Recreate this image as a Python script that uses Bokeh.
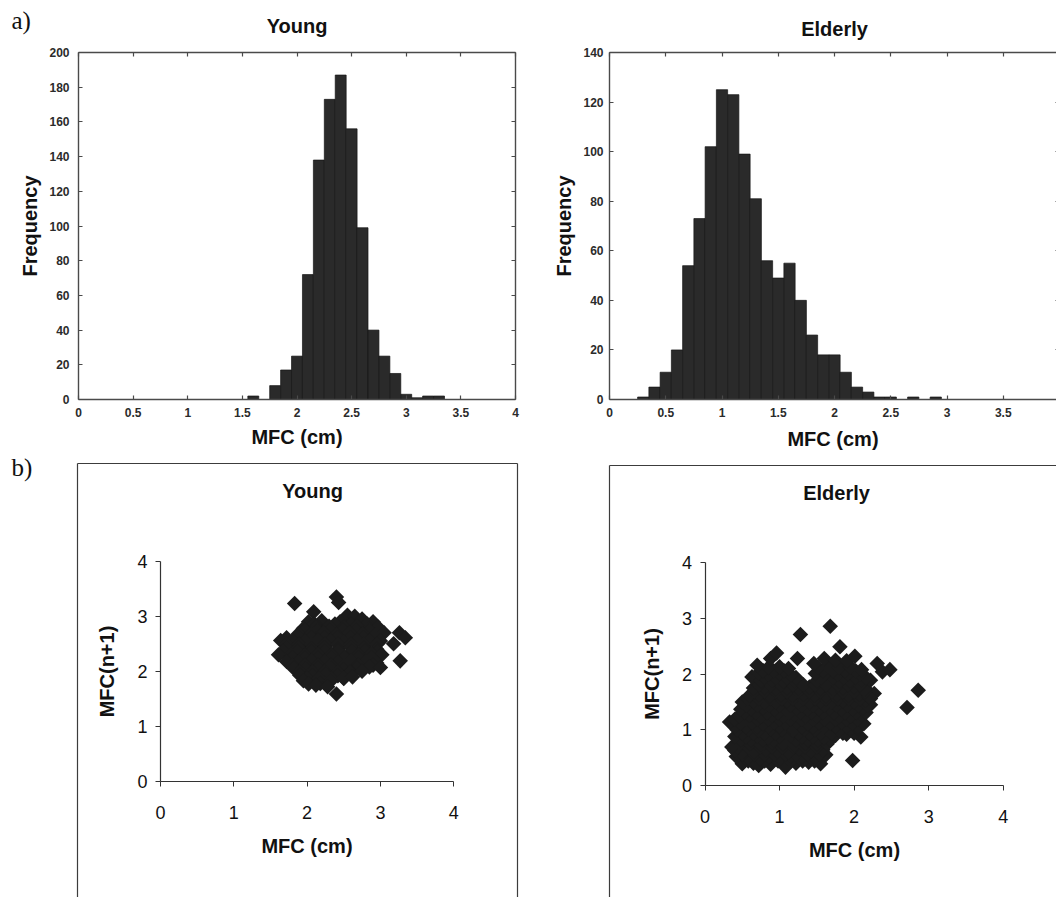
import math
from bokeh.plotting import figure
from bokeh.layouts import column, row
from bokeh.models import LinearAxis, FixedTicker, NumeralTickFormatter, Label
from bokeh.embed import file_html
from bokeh.resources import INLINE

# ---- histogram data: bin centres (cm) and counts ----
young_bin = [1.6, 1.7, 1.8, 1.9, 2.0, 2.1, 2.2, 2.3, 2.4, 2.5, 2.6, 2.7, 2.8, 2.9, 3.0, 3.1, 3.2, 3.3]
young_freq = [2, 0, 8, 17, 25, 72, 138, 173, 187, 156, 99, 40, 25, 15, 3, 1, 2, 2]

elderly_bin = [0.3, 0.4, 0.5, 0.6, 0.7, 0.8, 0.9, 1.0, 1.1, 1.2, 1.3, 1.4, 1.5, 1.6, 1.7,
               1.8, 1.9, 2.0, 2.1, 2.2, 2.3, 2.4, 2.5, 2.6, 2.7, 2.8, 2.9]
elderly_freq = [1, 5, 11, 20, 54, 73, 102, 125, 123, 99, 81, 56, 49, 55, 40,
                26, 18, 18, 11, 5, 3, 1, 1, 0, 1, 0, 1]

mfc_ticks = [0, 0.5, 1, 1.5, 2, 2.5, 3, 3.5, 4]
young_freq_ticks = [0, 20, 40, 60, 80, 100, 120, 140, 160, 180, 200]
elderly_freq_ticks = [0, 20, 40, 60, 80, 100, 120, 140]
return_map_ticks = [0, 1, 2, 3, 4]

# ---- successive-stride return maps: (MFC(n), MFC(n+1)) pairs in cm ----
young_pairs = [
    (1.83, 3.23), (2.40, 3.35), (2.43, 3.25),
    (2.09, 3.08), (2.55, 3.02), (2.65, 3.00),
    (2.02, 2.90), (2.20, 2.92), (2.45, 2.90), (2.75, 2.95), (2.90, 2.90),
    (2.10, 2.86), (2.38, 2.86), (2.60, 2.86), (2.82, 2.86),
    (1.95, 2.78), (2.12, 2.80), (2.30, 2.82), (2.50, 2.80), (2.68, 2.82), (2.85, 2.78), (2.97, 2.80),
    (1.97, 2.74), (2.14, 2.74), (2.31, 2.74), (2.49, 2.74), (2.67, 2.74), (2.85, 2.74),
    (1.88, 2.68), (2.05, 2.67), (2.22, 2.70), (2.40, 2.66), (2.58, 2.70), (2.76, 2.68), (2.93, 2.66), (3.05, 2.70),
    (1.72, 2.61), (1.89, 2.61), (2.06, 2.61), (2.24, 2.61), (2.41, 2.61), (2.59, 2.61), (2.77, 2.61), (2.94, 2.61),
    (1.64, 2.56), (1.80, 2.55), (1.97, 2.54), (2.15, 2.56), (2.32, 2.55), (2.50, 2.53), (2.68, 2.56),
    (2.85, 2.55), (3.00, 2.55), (3.26, 2.70), (3.34, 2.61), (3.18, 2.50),
    (1.72, 2.49), (1.89, 2.49), (2.06, 2.49), (2.24, 2.49), (2.42, 2.49), (2.60, 2.49), (2.77, 2.49), (2.95, 2.49),
    (1.72, 2.42), (1.88, 2.43), (2.06, 2.41), (2.24, 2.43), (2.42, 2.40), (2.60, 2.43), (2.78, 2.42), (2.95, 2.40),
    (1.67, 2.36), (1.87, 2.36), (2.06, 2.36), (2.24, 2.36), (2.42, 2.36), (2.61, 2.36), (2.79, 2.36), (2.96, 2.36),
    (1.61, 2.30), (1.78, 2.30), (1.97, 2.29), (2.15, 2.31), (2.33, 2.30), (2.50, 2.28), (2.70, 2.30), (2.88, 2.32), (3.02, 2.30),
    (1.80, 2.24), (1.97, 2.24), (2.15, 2.24), (2.33, 2.24), (2.51, 2.24), (2.70, 2.24), (2.88, 2.24),
    (1.72, 2.18), (1.88, 2.17), (2.06, 2.19), (2.24, 2.18), (2.42, 2.17), (2.60, 2.19), (2.80, 2.18), (2.95, 2.15), (3.27, 2.19),
    (1.80, 2.11), (1.97, 2.11), (2.15, 2.11), (2.33, 2.11), (2.51, 2.11), (2.70, 2.11), (2.90, 2.11),
    (1.82, 2.05), (1.98, 2.04), (2.15, 2.06), (2.33, 2.05), (2.50, 2.03), (2.68, 2.06), (2.85, 2.08), (3.00, 2.07),
    (1.90, 1.99), (2.07, 1.99), (2.24, 1.99), (2.42, 1.99), (2.59, 1.99),
    (1.90, 1.93), (2.07, 1.92), (2.25, 1.94), (2.42, 1.92), (2.59, 1.98), (2.75, 2.00),
    (2.00, 1.87), (2.16, 1.87), (2.33, 1.87), (2.50, 1.87),
    (1.95, 1.83), (2.02, 1.77), (2.18, 1.78), (2.32, 1.82), (2.50, 1.88), (2.62, 1.90),
    (2.40, 1.59), (2.12, 1.75), (2.28, 1.72),
]

elderly_pairs = [
    (0.50, 0.39), (0.65, 0.40), (0.72, 0.36), (0.88, 0.38), (1.08, 0.33), (1.22, 0.40), (1.39, 0.42), (1.55, 0.39),
    (0.58, 0.44), (0.80, 0.44), (0.98, 0.44), (1.15, 0.44), (1.31, 0.44), (1.47, 0.44),
    (0.42, 0.52), (0.58, 0.50), (0.74, 0.48), (0.86, 0.52), (1.00, 0.50), (1.15, 0.53), (1.30, 0.52),
    (1.47, 0.50), (1.62, 0.55), (1.98, 0.45),
    (0.50, 0.56), (0.66, 0.56), (0.80, 0.56), (0.93, 0.56), (1.08, 0.56), (1.22, 0.56), (1.38, 0.56), (1.54, 0.56),
    (0.40, 0.63), (0.52, 0.62), (0.66, 0.61), (0.82, 0.64), (0.97, 0.62), (1.12, 0.60), (1.26, 0.66), (1.42, 0.62), (1.58, 0.64),
    (0.44, 0.69), (0.58, 0.69), (0.74, 0.69), (0.90, 0.69), (1.04, 0.69), (1.19, 0.69), (1.34, 0.69), (1.50, 0.69),
    (0.36, 0.69), (0.47, 0.76), (0.60, 0.75), (0.75, 0.74), (0.90, 0.77), (1.05, 0.75), (1.20, 0.73),
    (1.35, 0.76), (1.50, 0.75), (1.64, 0.75),
    (0.48, 0.82), (0.62, 0.82), (0.78, 0.82), (0.92, 0.82), (1.08, 0.82), (1.22, 0.82), (1.38, 0.82), (1.52, 0.82), (1.68, 0.82),
    (0.40, 0.88), (0.55, 0.87), (0.70, 0.89), (0.85, 0.86), (1.00, 0.88), (1.15, 0.90), (1.30, 0.87),
    (1.45, 0.88), (1.60, 0.86), (1.75, 0.90), (1.90, 0.92), (2.09, 0.87),
    (0.50, 0.94), (0.65, 0.94), (0.80, 0.94), (0.95, 0.94), (1.10, 0.94), (1.25, 0.94), (1.40, 0.94),
    (1.55, 0.94), (1.70, 0.94), (1.85, 0.94), (2.00, 0.94),
    (0.43, 1.00), (0.58, 1.01), (0.72, 0.99), (0.88, 1.02), (1.03, 1.00), (1.18, 0.99), (1.33, 1.01),
    (1.48, 1.00), (1.63, 1.02), (1.80, 0.99), (1.95, 1.01), (2.05, 1.03),
    (0.40, 1.06), (0.55, 1.06), (0.70, 1.06), (0.85, 1.06), (1.00, 1.06), (1.15, 1.06), (1.30, 1.06),
    (1.45, 1.06), (1.60, 1.06), (1.75, 1.06), (1.90, 1.06), (2.05, 1.06),
    (0.33, 1.14), (0.48, 1.12), (0.63, 1.13), (0.78, 1.11), (0.93, 1.13), (1.08, 1.12), (1.23, 1.14),
    (1.38, 1.11), (1.53, 1.13), (1.68, 1.12), (1.83, 1.14), (1.98, 1.12), (2.13, 1.11),
    (0.40, 1.19), (0.55, 1.19), (0.70, 1.19), (0.85, 1.19), (1.00, 1.19), (1.15, 1.19), (1.30, 1.19),
    (1.45, 1.19), (1.60, 1.19), (1.75, 1.19), (1.90, 1.19), (2.05, 1.19),
    (0.46, 1.25), (0.60, 1.26), (0.75, 1.24), (0.90, 1.26), (1.05, 1.25), (1.20, 1.27), (1.35, 1.24),
    (1.50, 1.25), (1.65, 1.26), (1.80, 1.24), (1.95, 1.25), (2.10, 1.27),
    (0.53, 1.31), (0.68, 1.31), (0.83, 1.31), (0.98, 1.31), (1.13, 1.31), (1.28, 1.31), (1.43, 1.31),
    (1.58, 1.31), (1.73, 1.31), (1.88, 1.31), (2.03, 1.31), (2.16, 1.31),
    (0.48, 1.37), (0.62, 1.38), (0.78, 1.39), (0.93, 1.37), (1.08, 1.38), (1.23, 1.39), (1.38, 1.37),
    (1.53, 1.38), (1.68, 1.40), (1.83, 1.37), (1.98, 1.38), (2.12, 1.39), (2.22, 1.45),
    (0.56, 1.44), (0.70, 1.44), (0.86, 1.44), (1.00, 1.44), (1.15, 1.44), (1.30, 1.44), (1.45, 1.44),
    (1.60, 1.44), (1.76, 1.44), (1.91, 1.44), (2.06, 1.44), (2.18, 1.44),
    (0.50, 1.50), (0.65, 1.51), (0.80, 1.49), (0.95, 1.50), (1.10, 1.52), (1.25, 1.50), (1.40, 1.49),
    (1.55, 1.51), (1.70, 1.50), (1.85, 1.52), (2.00, 1.50), (2.15, 1.53), (2.27, 1.65),
    (0.57, 1.56), (0.72, 1.56), (0.88, 1.56), (1.03, 1.56), (1.18, 1.56), (1.32, 1.56), (1.48, 1.56),
    (1.62, 1.56), (1.78, 1.56), (1.93, 1.56), (2.08, 1.56), (2.22, 1.56),
    (0.60, 1.62), (0.72, 1.63), (0.87, 1.61), (1.02, 1.63), (1.17, 1.62), (1.32, 1.64), (1.47, 1.62),
    (1.62, 1.61), (1.77, 1.63), (1.92, 1.62), (2.07, 1.64), (2.20, 1.60),
    (0.66, 1.69), (0.80, 1.69), (0.95, 1.69), (1.10, 1.69), (1.25, 1.69), (1.40, 1.69), (1.55, 1.69),
    (1.70, 1.69), (1.85, 1.69), (2.00, 1.69), (2.15, 1.69),
    (0.65, 1.75), (0.80, 1.76), (0.95, 1.74), (1.10, 1.76), (1.25, 1.75), (1.40, 1.77), (1.55, 1.74),
    (1.70, 1.76), (1.85, 1.75), (2.00, 1.77), (2.15, 1.74), (2.86, 1.71), (2.71, 1.40),
    (0.72, 1.81), (0.88, 1.81), (1.02, 1.81), (1.18, 1.81), (1.32, 1.81), (1.48, 1.81), (1.62, 1.81),
    (1.78, 1.81), (1.92, 1.81), (2.08, 1.81),
    (0.63, 1.95), (0.75, 1.88), (0.90, 1.89), (1.05, 1.87), (1.20, 1.88), (1.50, 1.88), (1.65, 1.89),
    (1.80, 1.87), (1.95, 1.88), (2.10, 1.90), (2.22, 1.89),
    (0.80, 1.94), (0.95, 1.94), (1.10, 1.94), (1.22, 1.94), (1.56, 1.94), (1.72, 1.94), (1.86, 1.94),
    (2.02, 1.94), (2.16, 1.94),
    (0.72, 2.02), (0.85, 2.00), (1.00, 2.01), (1.15, 1.99), (1.48, 2.01), (1.62, 2.02), (1.78, 2.00),
    (1.92, 2.01), (2.08, 2.00), (2.38, 2.04),
    (0.78, 2.06), (0.92, 2.06), (1.06, 2.06), (1.58, 2.06), (1.72, 2.06), (1.88, 2.06), (2.02, 2.06),
    (0.70, 2.16), (0.85, 2.12), (1.00, 2.13), (1.12, 2.10), (1.52, 2.12), (1.65, 2.14), (1.80, 2.12),
    (1.95, 2.13), (2.10, 2.08), (2.31, 2.19), (2.48, 2.08),
    (0.88, 2.28), (1.24, 2.28), (1.46, 2.19), (1.60, 2.28), (1.75, 2.25), (1.90, 2.24), (2.01, 2.32),
    (0.96, 2.38), (1.28, 2.71), (1.68, 2.86), (1.81, 2.49),
]

young_mfc = [pt[0] for pt in young_pairs]
young_mfc_next = [pt[1] for pt in young_pairs]
elderly_mfc = [pt[0] for pt in elderly_pairs]
elderly_mfc_next = [pt[1] for pt in elderly_pairs]

FONT = "Liberation Sans"
FRAME = "#4a4a4a"
BAR = "#2a2a2a"
INK = "#1c1c1c"
BOX = "#3c3c3c"


def style_frame_axis(ax, ticks, labelled, standoff=8, line=True):
    ax.ticker = FixedTicker(ticks=ticks)
    ax.formatter = NumeralTickFormatter(format="0.[0]")
    ax.major_tick_in = 4
    ax.major_tick_out = 0
    ax.minor_tick_line_color = None
    ax.major_tick_line_color = FRAME
    ax.major_tick_line_width = 1.2
    ax.axis_line_color = FRAME if line else None
    ax.axis_line_width = 1.4
    ax.major_label_text_font = FONT
    ax.major_label_text_font_style = "bold"
    ax.major_label_text_font_size = "12px"
    ax.major_label_standoff = standoff
    ax.major_label_text_color = "#2b2b2b" if labelled else None


def style_axis_title(ax, text, standoff):
    ax.axis_label = text
    ax.axis_label_text_font = FONT
    ax.axis_label_text_font_size = "20px"
    ax.axis_label_text_font_style = "bold"
    ax.axis_label_text_color = "#111111"
    ax.axis_label_standoff = standoff


def plain_figure(width, height, x_range, y_range):
    p = figure(width=width, height=height, x_range=x_range, y_range=y_range,
               title=None, output_backend="svg", toolbar_location=None,
               min_border_left=0, min_border_right=0,
               min_border_top=0, min_border_bottom=0)
    p.outline_line_color = None
    p.xgrid.visible = False
    p.ygrid.visible = False
    p.background_fill_color = "white"
    p.border_fill_color = "white"
    return p


def add_title(p, text, x, y):
    p.add_layout(Label(x=x, y=y, text=text, text_font=FONT, text_font_size="20px",
                       text_font_style="bold", text_color="#111111",
                       text_align="center", text_baseline="middle"))


def histogram(title, bins, freq, ymax, yticks, width, x0_px, px_per_cm,
              ylab_standoff, xlab_standoff, yname_standoff, xname_standoff, title_y_px):
    height = 452
    y0_px, ytop_px = 399, 52
    px_per_count = (y0_px - ytop_px) / ymax
    x_range = (-x0_px / px_per_cm, (width - x0_px) / px_per_cm)
    y_range = (-(height - y0_px) / px_per_count, y0_px / px_per_count)
    p = plain_figure(width, height, x_range, y_range)

    p.vbar(x=bins, top=freq, width=0.1, bottom=0,
           fill_color=BAR, line_color="#161616", line_width=0.7)

    xa = p.below[0]
    ya = p.left[0]
    xa.fixed_location = 0
    xa.bounds = (0, 4)
    ya.fixed_location = 0
    ya.bounds = (0, ymax)
    style_frame_axis(xa, mfc_ticks, True, xlab_standoff)
    style_frame_axis(ya, yticks, True, ylab_standoff)
    style_axis_title(xa, "MFC (cm)", xname_standoff)
    style_axis_title(ya, "Frequency", yname_standoff)

    top_ax = LinearAxis(fixed_location=ymax, bounds=(0, 4))
    style_frame_axis(top_ax, mfc_ticks, False)
    p.add_layout(top_ax, "above")
    right_ax = LinearAxis(fixed_location=4, bounds=(0, ymax))
    style_frame_axis(right_ax, yticks, False)
    p.add_layout(right_ax, "right")

    add_title(p, title, 2.0, (y0_px - title_y_px) / px_per_count)
    return p


def box_edge(p, side, loc, bounds):
    edge = LinearAxis(fixed_location=loc, bounds=bounds, ticker=FixedTicker(ticks=[]))
    edge.axis_line_color = BOX
    edge.axis_line_width = 1.2
    edge.major_tick_line_color = None
    edge.minor_tick_line_color = None
    edge.major_label_text_color = None
    p.add_layout(edge, side)


def return_map(title, xs, ys, width, x0_px, px_per_cm_x, y0_px, px_per_cm_y,
               box_left_px, box_top_px, box_right_px, title_px):
    height = 445
    top_px = 452
    x_range = (-x0_px / px_per_cm_x, (width - x0_px) / px_per_cm_x)
    y_range = (-(top_px + height - y0_px) / px_per_cm_y, (y0_px - top_px) / px_per_cm_y)
    p = plain_figure(width, height, x_range, y_range)

    p.scatter(xs, ys, marker="square", size=11, angle=math.pi / 4,
              fill_color=INK, line_color=None)

    for ax in (p.xaxis[0], p.yaxis[0]):
        ax.fixed_location = 0
        ax.bounds = (0, 4)
        ax.ticker = FixedTicker(ticks=return_map_ticks)
        ax.minor_tick_line_color = None
        ax.major_tick_in = 0
        ax.major_tick_out = 5
        ax.axis_line_color = "#333333"
        ax.major_tick_line_color = "#333333"
        ax.axis_line_width = 1.2
        ax.major_label_text_font = FONT
        ax.major_label_text_font_size = "18px"
        ax.major_label_text_color = "#111111"
    p.xaxis[0].major_label_standoff = 19
    p.yaxis[0].major_label_standoff = 8
    style_axis_title(p.xaxis[0], "MFC (cm)", 13)
    style_axis_title(p.yaxis[0], "MFC(n+1)", 16)

    # chart-area border: left and top edges, plus the right edge where it is in view
    bx_left = (box_left_px - x0_px) / px_per_cm_x
    by_top = (y0_px - box_top_px) / px_per_cm_y
    x_end = x_range[1] if box_right_px is None else (box_right_px - x0_px) / px_per_cm_x
    box_edge(p, "left", bx_left, (y_range[0], by_top))
    box_edge(p, "above", by_top, (bx_left, x_end))
    if box_right_px is not None:
        box_edge(p, "right", x_end, (y_range[0], by_top))

    add_title(p, title, (title_px[0] - x0_px) / px_per_cm_x, (y0_px - title_px[1]) / px_per_cm_y)
    return p


p_young_hist = histogram("Young", young_bin, young_freq, 200, young_freq_ticks,
                         545, 78, 109.25, 9, 8, 5, 6, 25)
p_elderly_hist = histogram("Elderly", elderly_bin, elderly_freq, 140, elderly_freq_ticks,
                           511, 64, 112.5, 6, 8, 5, 8, 28)

p_young_map = return_map("Young", young_mfc, young_mfc_next, 560, 160, 73.3, 781, 55.08,
                         77, 463, 517, (312, 490))
p_elderly_map = return_map("Elderly", elderly_mfc, elderly_mfc_next, 496, 144.5, 74.55, 785, 55.7,
                           49, 465, None, (276, 492))

# panel letters
p_young_hist.add_layout(Label(x=(11 - 78) / 109.25, y=(399 - 20) / (347 / 200), text="a)",
                              text_font="Liberation Serif", text_font_size="25px",
                              text_color="#111111", text_align="left", text_baseline="middle"))
p_young_map.add_layout(Label(x=(11 - 160) / 73.3, y=(781 - 467) / 55.08, text="b)",
                             text_font="Liberation Serif", text_font_size="25px",
                             text_color="#111111", text_align="left", text_baseline="middle"))

layout = column(row(p_young_hist, p_elderly_hist), row(p_young_map, p_elderly_map))

open("out.html", "w").write(file_html(layout, INLINE))
